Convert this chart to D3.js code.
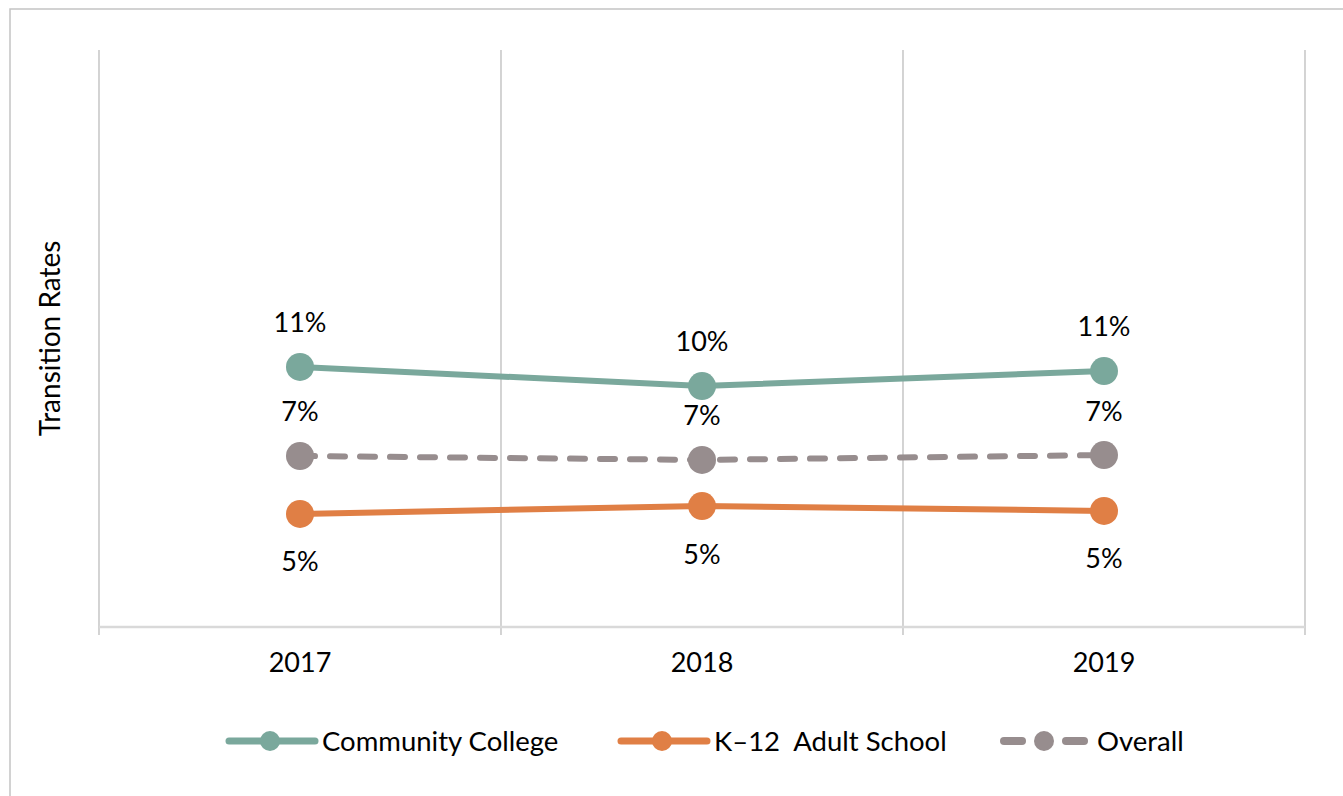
<!DOCTYPE html>
<html>
<head>
<meta charset="utf-8">
<script src="https://cdn.jsdelivr.net/npm/d3@7"></script>
<style>
  html, body { margin: 0; padding: 0; background: #fff; }
  svg { display: block; }
  text { font-family: Lato, "Noto Sans", sans-serif; fill: #000; }
</style>
</head>
<body>
<svg id="chart" width="1343" height="796"></svg>
<script>
const years = ["2017", "2018", "2019"];
const communityCollege = [0.1127, 0.1044, 0.1109];
const k12AdultSchool = [0.0490, 0.0524, 0.0503];
const overall = [0.0741, 0.0724, 0.0745];
const seriesNames = ["Community College", "K\u201312  Adult School", "Overall"];
const yAxisTitle = "Transition Rates";

const series = [
  { name: seriesNames[0], values: communityCollege, color: "#7aa89c", dash: null, labelPos: "above" },
  { name: seriesNames[1], values: k12AdultSchool, color: "#e07f45", dash: null, labelPos: "below" },
  { name: seriesNames[2], values: overall, color: "#978d8e", dash: "15,15", labelPos: "above" }
];

const svg = d3.select("#chart");
const W = 1343, H = 796;
const plot = { left: 99, right: 1305, top: 50, bottom: 627 };

// outer border
svg.append("rect").attr("x", 10).attr("y", 9).attr("width", W + 10).attr("height", H + 10)
  .attr("fill", "none").attr("stroke", "#c4c4c4").attr("stroke-width", 1.5);

const x = d3.scaleBand().domain(years).range([plot.left, plot.right]);
const y = d3.scaleLinear().domain([0, 0.25]).range([plot.bottom, plot.top]);

// vertical gridlines at band boundaries
const bounds = years.map(d => x(d)).concat([x(years[years.length - 1]) + x.bandwidth()]);
svg.append("g").selectAll("line").data(bounds).join("line")
  .attr("x1", d => d).attr("x2", d => d)
  .attr("y1", plot.top).attr("y2", plot.bottom + 8)
  .attr("stroke", "#c9c9c9").attr("stroke-width", 1.6);

// x axis line
svg.append("line").attr("x1", plot.left).attr("x2", plot.right)
  .attr("y1", plot.bottom).attr("y2", plot.bottom)
  .attr("stroke", "#d9d9d9").attr("stroke-width", 2.5);

// x axis labels
svg.append("g").selectAll("text").data(years).join("text")
  .attr("x", d => x(d) + x.bandwidth() / 2)
  .attr("y", 672)
  .attr("text-anchor", "middle")
  .attr("font-size", 27)
  .text(d => d);

// y axis title
svg.append("text")
  .attr("transform", `translate(60, ${(plot.top + plot.bottom) / 2}) rotate(-90)`)
  .attr("text-anchor", "middle")
  .attr("font-size", 28)
  .text(yAxisTitle);

const cx = d => x(d) + x.bandwidth() / 2;
const line = d3.line().x((d, i) => cx(years[i])).y(d => y(d));

// lines
series.forEach(s => {
  svg.append("path").datum(s.values)
    .attr("d", line)
    .attr("fill", "none")
    .attr("stroke", s.color)
    .attr("stroke-width", 6)
    .attr("stroke-linecap", "round")
    .attr("stroke-dasharray", s.dash);
});

// markers and labels
series.forEach(s => {
  svg.append("g").selectAll("circle").data(s.values).join("circle")
    .attr("cx", (d, i) => cx(years[i]))
    .attr("cy", d => y(d))
    .attr("r", 14)
    .attr("fill", s.color);
  svg.append("g").selectAll("text").data(s.values).join("text")
    .attr("x", (d, i) => cx(years[i]))
    .attr("y", d => y(d) + (s.labelPos === "above" ? -44 : 48))
    .attr("dy", "0.35em")
    .attr("text-anchor", "middle")
    .attr("font-size", 27)
    .text(d => d3.format(".0%")(d));
});

// legend
const legendItems = [
  { s: series[0], x0: 226, tx: 322 },
  { s: series[1], x0: 618, tx: 714 },
  { s: series[2], x0: 1000, tx: 1097 }
];
const ly = 741;
legendItems.forEach(it => {
  const g = svg.append("g");
  if (it.s.dash) {
    [[it.x0 + 4, it.x0 + 22], [it.x0 + 66, it.x0 + 84]].forEach(seg => {
      g.append("line").attr("x1", seg[0]).attr("x2", seg[1]).attr("y1", ly).attr("y2", ly)
        .attr("stroke", it.s.color).attr("stroke-width", 8).attr("stroke-linecap", "round");
    });
  } else {
    g.append("line").attr("x1", it.x0 + 3).attr("x2", it.x0 + 89).attr("y1", ly).attr("y2", ly)
      .attr("stroke", it.s.color).attr("stroke-width", 7).attr("stroke-linecap", "round");
  }
  g.append("circle").attr("cx", it.x0 + 44).attr("cy", ly).attr("r", 10).attr("fill", it.s.color);
  g.append("text").attr("x", it.tx).attr("y", ly).attr("dy", "0.35em")
    .attr("font-size", 27.5).style("white-space", "pre").attr("xml:space", "preserve")
    .text(it.s.name);
});
</script>
</body>
</html>
